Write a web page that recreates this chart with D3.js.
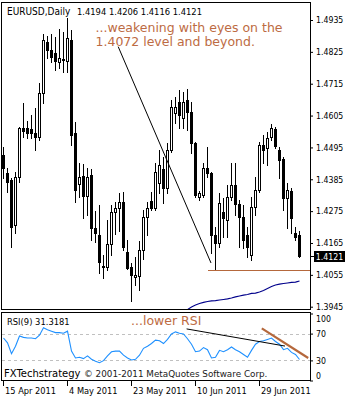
<!DOCTYPE html>
<html><head><meta charset="utf-8">
<script src="https://cdn.jsdelivr.net/npm/d3@7"></script>
<style>html,body{margin:0;padding:0;background:#fff;} svg{display:block;}</style>
</head><body><svg id="c" width="350" height="400"></svg>
<script>
// ---- data ----
const symbol = "EURUSD,Daily";
const headerValues = ["1.4194", "1.4206", "1.4116", "1.4121"];
const opens = [1.4469,1.4407,1.4383,1.4227,1.4393,1.4562,1.4562,1.4559,1.4545,1.4531,
1.4683,1.4859,1.4831,1.4821,1.4790,1.4797,1.4793,1.4866,1.4545,1.4369,
1.4396,1.4327,1.4400,1.4217,1.4193,1.4082,1.4082,1.4162,1.4272,1.4286,
1.4306,1.4134,1.4082,1.4048,1.4052,1.4141,1.4255,1.4310,1.4286,1.4372,
1.4421,1.4355,1.4486,1.4614,1.4652,1.4596,1.4659,1.4617,1.4510,1.4324,
1.4331,1.4424,1.4407,1.4193,1.4165,1.4272,1.4244,1.4324,1.4365,1.4300,
1.4255,1.4193,1.4124,1.4289,1.4348,1.4503,1.4493,1.4531,1.4559,1.4486,
1.4455,1.4320,1.4345,1.4200,1.4194];
const highs = [1.4497,1.4424,1.4390,1.4410,1.4566,1.4648,1.4586,1.4607,1.4631,1.4717,
1.4887,1.4880,1.4887,1.4876,1.4904,1.4894,1.4942,1.4900,1.4583,1.4441,
1.4438,1.4424,1.4421,1.4275,1.4296,1.4124,1.4244,1.4296,1.4306,1.4337,
1.4341,1.4176,1.4096,1.4117,1.4172,1.4279,1.4306,1.4341,1.4441,1.4486,
1.4462,1.4510,1.4659,1.4669,1.4693,1.4686,1.4697,1.4652,1.4514,1.4345,
1.4441,1.4497,1.4410,1.4220,1.4337,1.4320,1.4365,1.4441,1.4441,1.4313,
1.4296,1.4220,1.4324,1.4393,1.4514,1.4538,1.4548,1.4576,1.4566,1.4497,
1.4462,1.4372,1.4355,1.4220,1.4206];
const lows = [1.4390,1.4341,1.4151,1.4200,1.4376,1.4531,1.4528,1.4528,1.4486,1.4521,
1.4648,1.4804,1.4790,1.4762,1.4769,1.4755,1.4755,1.4503,1.4306,1.4324,
1.4251,1.4262,1.4176,1.4169,1.4062,1.4045,1.4072,1.4124,1.4196,1.4206,
1.4141,1.4075,1.3965,1.4020,1.4003,1.4110,1.4193,1.4279,1.4279,1.4337,
1.4303,1.4337,1.4479,1.4579,1.4562,1.4562,1.4555,1.4476,1.4324,1.4313,
1.4324,1.4393,1.4131,1.4072,1.4151,1.4186,1.4186,1.4313,1.4262,1.4151,
1.4148,1.4117,1.4107,1.4262,1.4341,1.4441,1.4434,1.4521,1.4493,1.4390,
1.4279,1.4217,1.4200,1.4176,1.4116];
const closes = [1.4424,1.4376,1.4220,1.4393,1.4562,1.4552,1.4545,1.4545,1.4531,1.4683,
1.4866,1.4831,1.4807,1.4793,1.4804,1.4800,1.4873,1.4538,1.4348,1.4393,
1.4327,1.4393,1.4217,1.4200,1.4100,1.4086,1.4162,1.4272,1.4286,1.4306,
1.4151,1.4079,1.4055,1.4055,1.4141,1.4255,1.4286,1.4286,1.4410,1.4434,
1.4355,1.4486,1.4635,1.4635,1.4607,1.4652,1.4617,1.4510,1.4331,1.4337,
1.4424,1.4407,1.4193,1.4165,1.4303,1.4251,1.4324,1.4365,1.4300,1.4255,
1.4176,1.4151,1.4289,1.4348,1.4503,1.4486,1.4528,1.4562,1.4500,1.4452,
1.4320,1.4348,1.4251,1.4186,1.4121];
const maStartIndex = 44;
const maValues = [1.3920,1.3927,1.3935,1.3944,1.3951,1.3956,1.3960,1.3963,1.3965,1.3966,
1.3968,1.3970,1.3972,1.3975,1.3979,1.3982,1.3985,1.3987,1.3991,1.3992,
1.3996,1.4001,1.4008,1.4015,1.4020,1.4023,1.4025,1.4027,1.4029,1.4030,1.4034];
const rsiValues = [63.4,56.2,39.9,51.1,66.4,64.4,63.4,63.4,62.3,67.5,
78.7,75.6,73.6,71.5,71.5,70.5,73.6,43.9,33.7,34.7,
32.7,36.8,31.7,28.6,26.6,29.6,36.8,42.9,43.9,43.9,
37.8,33.7,30.7,31.7,37.8,48.0,51.1,55.2,60.3,59.3,
55.2,61.3,69.5,72.6,70.5,69.5,62.3,54.2,42.9,43.9,
49.1,46.0,33.7,34.7,45.0,42.9,46.0,50.1,46.0,42.9,
38.8,34.7,45.0,54.2,58.3,59.3,61.3,63.4,58.3,54.2,
46.0,48.0,41.9,38.8,31.3181];
const rsiLabel = "RSI(9) 31.3181";
const priceTicks = [1.4935,1.4825,1.4715,1.4605,1.4495,1.4385,1.4275,1.4165,1.4055,1.3945];
const rsiTicks = [100,70,30,0];
const rsiLevels = [70,30];
const dateTickIndex = [0,16,32,48,64];
const dateLabels = ["15 Apr 2011","4 May 2011","23 May 2011","10 Jun 2011","29 Jun 2011"];
const priceTrend = [{i:28.8,v:1.4843},{i:52,v:1.4096}];
const supportLevel = 1.4072, supportFrom = 51.2;
const rsiTrendBlack = [{i:45.9,v:77.0},{i:70.5,v:51.4}];
const rsiTrendBrown = [{i:64.7,v:77.8},{i:76.3,v:33.6}];
const noteMain = ["...weakening with eyes on the","1.4072 level and beyond."];
const noteRsi = "...lower RSI";
const brand = "FXTechstrategy";
const copyright = "\u00A9 2001-2011 MetaQuotes Software Corp.";

// ---- drawing ----
const svg = d3.select("#c");
const small = "'DejaVu Sans Condensed','Liberation Sans',Arial,sans-serif";
const verd = "'DejaVu Sans',Verdana,sans-serif";
const brown = "#bd6b43", brownLine = "#b5683c";
const x = d3.scaleLinear().domain([-0.25, 76.75]).range([2, 310]);
const y = d3.scaleLinear().domain([1.3945, 1.4935]).range([306.7, 20]);
const yr = d3.scaleLinear().domain([0, 100]).range([380.5, 313.5]);
const px = i => Math.round(x(i));

svg.append("rect").attr("width",350).attr("height",400).attr("fill","#fff");
const defs = svg.append("defs");
defs.append("clipPath").attr("id","cm").append("rect").attr("x",2).attr("y",3).attr("width",308).attr("height",306);
defs.append("clipPath").attr("id","cr").append("rect").attr("x",2).attr("y",313).attr("width",308).attr("height",67);

// panel borders
const frame = svg.append("g").attr("fill","none").attr("stroke","#000").attr("shape-rendering","crispEdges");
frame.append("rect").attr("x",1.5).attr("y",2.5).attr("width",309).attr("height",307);
frame.append("rect").attr("x",1.5).attr("y",312.5).attr("width",309).attr("height",68);

// main panel
const gm = svg.append("g").attr("clip-path","url(#cm)");
const bars = opens.map((o,i)=>({i,o,h:highs[i],l:lows[i],c:closes[i]}));
gm.selectAll("line.w").data(bars).join("line").attr("class","w")
  .attr("x1",d=>px(d.i)+0.5).attr("x2",d=>px(d.i)+0.5)
  .attr("y1",d=>Math.round(y(d.h))).attr("y2",d=>Math.round(y(d.l))+1)
  .attr("stroke","#000").attr("shape-rendering","crispEdges");
gm.selectAll("rect.b").data(bars.filter(d=>d.c<d.o)).join("rect").attr("class","b")
  .attr("x",d=>px(d.i)-1).attr("width",3)
  .attr("y",d=>Math.round(y(d.o)))
  .attr("height",d=>Math.max(1,Math.round(y(d.c))-Math.round(y(d.o))+1))
  .attr("fill","#000").attr("shape-rendering","crispEdges");
gm.selectAll("rect.u").data(bars.filter(d=>d.c>=d.o)).join("rect").attr("class","u")
  .attr("x",d=>px(d.i)-0.5).attr("width",2)
  .attr("y",d=>Math.round(y(d.c))+0.5)
  .attr("height",d=>Math.max(1,Math.round(y(d.o))-Math.round(y(d.c))))
  .attr("fill","#fff").attr("stroke","#000").attr("shape-rendering","crispEdges");

// moving average
gm.append("path").datum(maValues)
  .attr("d", d3.line().x((d,k)=>x(maStartIndex+k)+0.5).y(d=>y(d)))
  .attr("fill","none").attr("stroke","#00008b").attr("stroke-width",1.1);

// trend line & support
gm.append("path").datum(priceTrend)
  .attr("d", d3.line().x(d=>x(d.i)).y(d=>y(d.v)))
  .attr("stroke","#000").attr("stroke-width",1).attr("fill","none");
gm.append("line").attr("x1",x(supportFrom)).attr("x2",310)
  .attr("y1",Math.round(y(supportLevel))+0.5).attr("y2",Math.round(y(supportLevel))+0.5)
  .attr("stroke",brownLine).attr("stroke-width",1).attr("shape-rendering","crispEdges");

// price axis
const ya = svg.append("g").attr("transform","translate(310,0)")
  .call(d3.axisRight(y).tickValues(priceTicks).tickSize(3).tickPadding(3).tickFormat(d3.format(".4f")));
ya.select(".domain").remove();
ya.selectAll("text").attr("font-family",small).attr("font-size","8.7px").attr("fill","#000");
ya.selectAll("line").attr("stroke","#000");

// current price label
const lastY = Math.round(y(closes[closes.length-1]));
svg.append("rect").attr("x",314).attr("y",lastY-5).attr("width",31).attr("height",11).attr("fill","#000");
svg.append("text").attr("x",329.5).attr("y",lastY+3.5).attr("text-anchor","middle")
  .attr("font-family",small).attr("font-size","8.7px").attr("fill","#fff").text(headerValues[3]);
svg.append("line").attr("x1",310).attr("x2",314).attr("y1",lastY+0.5).attr("y2",lastY+0.5).attr("stroke","#000");

// header text
svg.append("text").attr("x",7).attr("y",14.5).attr("font-family",small).attr("font-size","10px").attr("fill","#000").text(symbol);
svg.append("text").attr("x",77).attr("y",14.5).attr("font-family",small).attr("font-size","9.3px").attr("fill","#000")
  .text(headerValues.join(" "));

// annotation
noteMain.forEach((t,k)=>svg.append("text").attr("x",95.5).attr("y",32+14*k)
  .attr("font-family",verd).attr("font-size","12.5px").attr("fill",brown).text(t));

// RSI panel
const gr = svg.append("g").attr("clip-path","url(#cr)");
gr.selectAll("line.lv").data(rsiLevels).join("line").attr("class","lv")
  .attr("x1",2).attr("x2",310).attr("y1",d=>Math.round(yr(d))+0.5).attr("y2",d=>Math.round(yr(d))+0.5)
  .attr("stroke","#c0c0c0").attr("stroke-dasharray","3,3").attr("shape-rendering","crispEdges");
gr.append("path").datum(rsiValues)
  .attr("d", d3.line().x((d,k)=>x(k)+0.5).y(d=>yr(d)))
  .attr("fill","none").attr("stroke","#1e90ff").attr("stroke-width",1.1);
gr.append("path").datum(rsiTrendBlack)
  .attr("d", d3.line().x(d=>x(d.i)).y(d=>yr(d.v)))
  .attr("stroke","#000").attr("stroke-width",1).attr("fill","none");
gr.append("path").datum(rsiTrendBrown)
  .attr("d", d3.line().x(d=>x(d.i)).y(d=>yr(d.v)))
  .attr("stroke",brownLine).attr("stroke-width",2.2).attr("fill","none");

const ra = svg.append("g").attr("transform","translate(310,0)")
  .call(d3.axisRight(yr).tickValues(rsiTicks).tickSize(3).tickPadding(3));
ra.select(".domain").remove();
ra.selectAll("line").attr("stroke","#000");
ra.selectAll("text").attr("font-family",small).attr("font-size","8.7px").attr("fill","#000")
  .attr("y",d=>Math.min(Math.max(yr(d),319),376)-yr(d));

svg.append("text").attr("x",7).attr("y",325.3).attr("font-family",small).attr("font-size","9.3px").attr("fill","#000").text(rsiLabel);
svg.append("text").attr("x",131).attr("y",325.3).attr("font-family",verd).attr("font-size","12.5px").attr("fill",brown).text(noteRsi);
svg.append("text").attr("x",4).attr("y",377.3).attr("font-family",verd).attr("font-size","10px").attr("fill","#000").text(brand);
svg.append("text").attr("x",84).attr("y",377.3).attr("font-family",verd).attr("font-size","8.8px").attr("fill","#1a1a1a").text(copyright);

// date axis
const xa = svg.append("g").attr("transform","translate(0,381)")
  .call(d3.axisBottom(x).tickValues(dateTickIndex).tickSize(5).tickFormat((d,k)=>dateLabels[k]));
xa.select(".domain").remove();
xa.selectAll("line").attr("stroke","#000");
xa.selectAll("text").attr("text-anchor","start").attr("x",1.5).attr("y",13).attr("dy",0)
  .attr("font-family",small).attr("font-size","9.2px").attr("fill","#000");
</script></body></html>
